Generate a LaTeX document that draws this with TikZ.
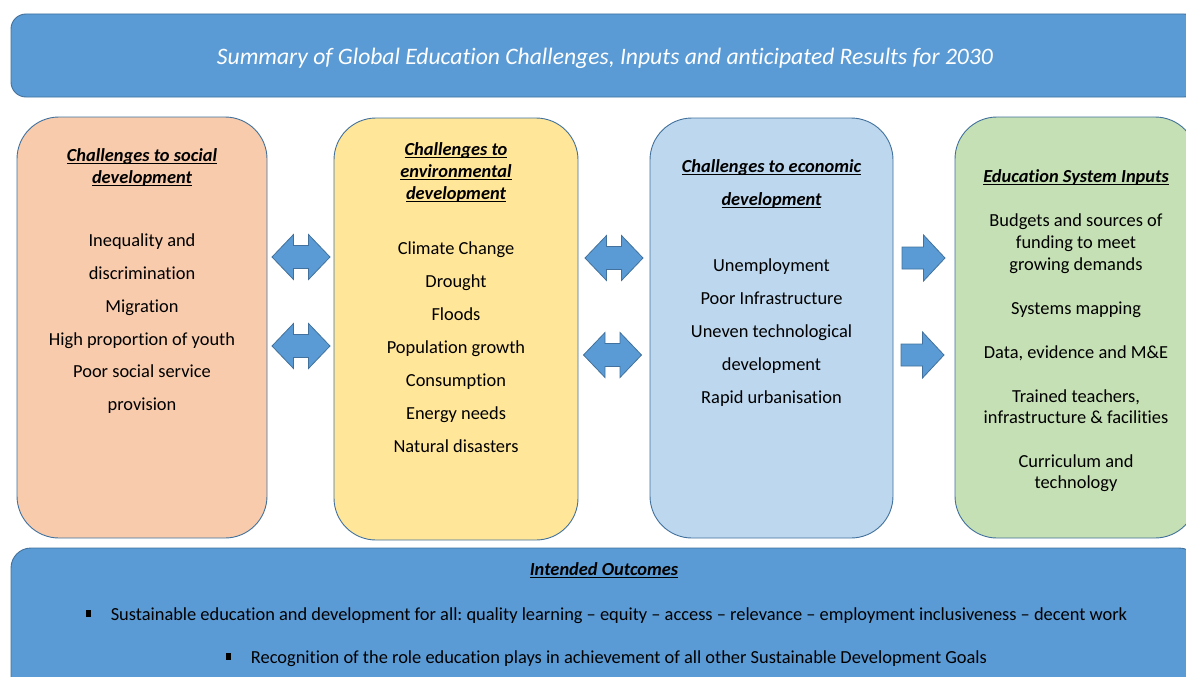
\documentclass[tikz,border=0pt]{standalone}
\usepackage{fontspec}
\setmainfont{Carlito}[Ligatures={TeX,NoCommon}]
\definecolor{hdrblue}{HTML}{5B9BD5}
\definecolor{edgeblue}{HTML}{41719C}
\definecolor{socfill}{HTML}{F8CBAD}
\definecolor{envfill}{HTML}{FFE699}
\definecolor{ecofill}{HTML}{BDD7EE}
\definecolor{inpfill}{HTML}{C5E0B4}
\newcommand{\outbullet}{\rule[3pt]{5.5pt}{7pt}}
\newcommand{\hul}[1]{\setbox0\hbox{#1}\rlap{\rule[-2.7pt]{\wd0}{1.1pt}}\box0}
\frenchspacing
\begin{document}
\begin{tikzpicture}[x=1pt,y=-1pt,
  panel/.style={draw=edgeblue, line width=0.9pt, rounded corners=42pt, inner sep=0pt},
  body/.style={anchor=base, font=\fontsize{18.4}{22}\selectfont, inner sep=0pt},
  head/.style={anchor=base, font=\fontsize{18.4}{22}\selectfont\bfseries\itshape, inner sep=0pt},
  arr/.style={fill=hdrblue, draw=edgeblue, line width=0.8pt, line join=miter},
  dblarr/.pic={\path[arr] (-29,0) -- (-7.5,-22.5) -- (-7.5,-11.5) -- (7.5,-11.5) -- (7.5,-22.5) -- (29,0) -- (7.5,22.5) -- (7.5,11.5) -- (-7.5,11.5) -- (-7.5,22.5) -- cycle;},
  rarr/.pic={\path[arr] (-21.5,-11) -- (0,-11) -- (0,-23) -- (21.5,0) -- (0,23) -- (0,11) -- (-21.5,11) -- cycle;}
]
\useasboundingbox (0,0) rectangle (1186,677);
\clip (0,0) rectangle (1186,677);

% title
\node[panel, rounded corners=15pt, fill=hdrblue, minimum width=1188pt, minimum height=83pt] (title) at (605,55.5) {};
\node[anchor=base, inner sep=0pt, text=white, font=\fontsize{23.6}{28}\selectfont\itshape] (titletext) at (605,64)
  {Summary of Global Education Challenges, Inputs and anticipated Results for 2030};

% panels
\node[panel, fill=socfill, minimum width=250pt, minimum height=421pt] (soc) at (142,327.5) {};
\node[panel, fill=envfill, minimum width=244pt, minimum height=422pt] (env) at (456,329) {};
\node[panel, fill=ecofill, minimum width=243pt, minimum height=420pt] (eco) at (771.5,328) {};
\node[panel, fill=inpfill, minimum width=242pt, minimum height=421pt] (inp) at (1076,327.5) {};

% social
\node[head] (soch1) at (142,161) {\hul{Challenges to social}};
\node[head] (soch2) at (142,183) {\hul{development}};
\foreach \t/\y [count=\i] in {Inequality and/246, discrimination/279, Migration/312, High proportion of youth/345, Poor social service/377, provision/410}
  \node[body] (socb\i) at (142,\y) {\t};

% environmental
\node[head] (envh1) at (456,155) {\hul{Challenges to}};
\node[head] (envh2) at (456,177) {\hul{environmental}};
\node[head] (envh3) at (456,199) {\hul{development}};
\foreach \t/\y [count=\i] in {Climate Change/254, Drought/287, Floods/320, Population growth/353, Consumption/386, Energy needs/419, Natural disasters/452}
  \node[body] (envb\i) at (456,\y) {\t};

% economic
\node[head] (ecoh1) at (771.5,172) {\hul{Challenges to economic}};
\node[head] (ecoh2) at (771.5,205) {\hul{development}};
\foreach \t/\y [count=\i] in {Unemployment/271, Poor Infrastructure/304, Uneven technological/337, development/370, Rapid urbanisation/403}
  \node[body] (ecob\i) at (771.5,\y) {\t};

% inputs
\node[head] (inph) at (1076,182) {\hul{Education System Inputs}};
\foreach \t/\y [count=\i] in {Budgets and sources of/226, funding to meet/248, growing demands/270, Systems mapping/314, {Data, evidence and M\&E}/358, {Trained teachers,}/402, infrastructure \& facilities/423, Curriculum and/467, technology/488}
  \node[body] (inpb\i) at (1076,\y) {\t};

% arrows
\pic at (301,257) {dblarr};
\pic at (301,346) {dblarr};
\pic at (614,258) {dblarr};
\pic at (612.5,355) {dblarr};
\pic at (923.5,258) {rarr};
\pic at (922.5,355) {rarr};

% outcomes
\node[panel, rounded corners=20pt, fill=hdrblue, minimum width=1188pt, minimum height=152pt] (out) at (605,624) {};
\node[head] (outh) at (604,575) {\hul{Intended Outcomes}};
\node[body] (out1) at (606.5,620) {\outbullet\hspace{19.5pt}Sustainable education and development for all: quality learning – equity – access – relevance – employment inclusiveness – decent work};
\node[body] (out2) at (606.5,663) {\outbullet\hspace{19.5pt}Recognition of the role education plays in achievement of all other Sustainable Development Goals};
\end{tikzpicture}
\end{document}
